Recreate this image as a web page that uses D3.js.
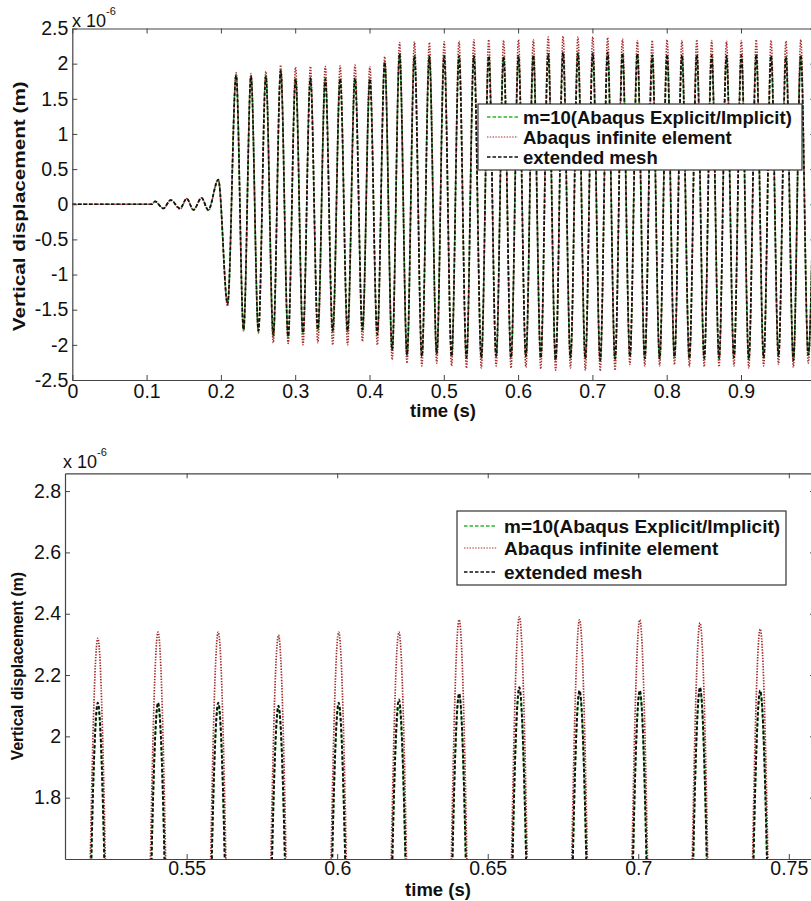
<!DOCTYPE html>
<html>
<head>
<meta charset="utf-8">
<script src="https://cdn.jsdelivr.net/npm/d3@7"></script>
<style>
  html, body { margin: 0; padding: 0; background: #fff; }
  svg { display: block; }
  text { font-family: "Liberation Sans", Arial, Helvetica, sans-serif; fill: #111; }
</style>
</head>
<body>
<svg id="chart" width="811" height="901"></svg>
<script>
// ---------------- DATA ----------------
// times (s) of the turning points of the signals
const extremaTimes = [
  0, 0.107, 0.1113, 0.1225, 0.1324, 0.145, 0.154, 0.163, 0.174, 0.183, 0.1965, 0.209,
  0.2205, 0.2305, 0.2405, 0.2505, 0.2605, 0.2705, 0.2805, 0.2905,
  0.3005, 0.3105, 0.3205, 0.3305, 0.3405, 0.3505, 0.3605, 0.3705, 0.3805, 0.3905,
  0.4005, 0.4105, 0.4205, 0.4305, 0.4405, 0.4505, 0.4605, 0.4705, 0.4805, 0.4905,
  0.5005, 0.5105, 0.5205, 0.5305, 0.5405, 0.5505, 0.5605, 0.5705, 0.5805, 0.5905,
  0.6005, 0.6105, 0.6205, 0.6305, 0.6405, 0.6505, 0.6605, 0.6705, 0.6805, 0.6905,
  0.7005, 0.7105, 0.7205, 0.7305, 0.7405, 0.7505, 0.7605, 0.7705, 0.7805, 0.7905,
  0.8005, 0.8105, 0.8205, 0.8305, 0.8405, 0.8505, 0.8605, 0.8705, 0.8805, 0.8905,
  0.9005, 0.9105, 0.9205, 0.9305, 0.9405, 0.9505, 0.9605, 0.9705, 0.9805, 0.9905,
  1.0
];
// vertical displacement (x 1e-6 m) : m=10 (Abaqus Explicit/Implicit)
const m10Values = [
  0, 0, 0.04, -0.06, 0.06, -0.06, 0.08, -0.08, 0.09, -0.08, 0.34, -1.40,
  1.85, -1.80, 1.83, -1.82, 1.84, -1.90, 1.92, -1.90,
  1.80, -1.85, 1.80, -1.80, 1.80, -1.82, 1.80, -1.82, 1.80, -1.80,
  1.80, -1.86, 2.03, -2.08, 2.13, -2.15, 2.12, -2.17, 2.11, -2.13,
  2.12, -2.17, 2.10, -2.19, 2.10, -2.19, 2.10, -2.17, 2.09, -2.19,
  2.10, -2.17, 2.10, -2.19, 2.13, -2.22, 2.15, -2.19, 2.14, -2.20,
  2.14, -2.23, 2.15, -2.21, 2.14, -2.17, 2.13, -2.20, 2.11, -2.20,
  2.12, -2.18, 2.11, -2.20, 2.12, -2.20, 2.11, -2.20, 2.10, -2.19,
  2.11, -2.21, 2.12, -2.19, 2.10, -2.17, 2.09, -2.21, 2.11, -2.15,
  2.11
];
// Abaqus infinite element
const infiniteValues = [
  0, 0, 0.04, -0.06, 0.06, -0.07, 0.08, -0.08, 0.09, -0.09, 0.35, -1.45,
  1.87, -1.80, 1.86, -1.83, 1.89, -1.97, 1.98, -1.98,
  1.95, -2.00, 1.96, -1.97, 1.96, -2.00, 1.97, -2.00, 1.98, -1.95,
  1.96, -2.00, 2.10, -2.21, 2.30, -2.26, 2.31, -2.30, 2.30, -2.26,
  2.31, -2.30, 2.32, -2.33, 2.34, -2.33, 2.34, -2.30, 2.33, -2.33,
  2.34, -2.32, 2.34, -2.34, 2.38, -2.36, 2.39, -2.33, 2.38, -2.36,
  2.38, -2.37, 2.37, -2.36, 2.35, -2.28, 2.33, -2.30, 2.33, -2.30,
  2.34, -2.28, 2.33, -2.31, 2.34, -2.31, 2.33, -2.31, 2.32, -2.30,
  2.33, -2.33, 2.34, -2.30, 2.33, -2.28, 2.32, -2.32, 2.34, -2.26,
  2.33
];
// extended mesh
const meshValues = [
  0, 0, 0.04, -0.06, 0.06, -0.06, 0.08, -0.08, 0.09, -0.08, 0.35, -1.42,
  1.83, -1.78, 1.82, -1.80, 1.82, -1.85, 1.90, -1.88,
  1.78, -1.83, 1.79, -1.78, 1.78, -1.80, 1.78, -1.80, 1.79, -1.78,
  1.78, -1.85, 2.02, -2.07, 2.14, -2.14, 2.11, -2.16, 2.10, -2.12,
  2.11, -2.16, 2.11, -2.18, 2.11, -2.18, 2.11, -2.16, 2.10, -2.18,
  2.11, -2.16, 2.12, -2.18, 2.14, -2.21, 2.16, -2.18, 2.15, -2.19,
  2.15, -2.22, 2.16, -2.20, 2.15, -2.16, 2.14, -2.19, 2.12, -2.19,
  2.13, -2.17, 2.12, -2.19, 2.13, -2.19, 2.12, -2.19, 2.11, -2.18,
  2.12, -2.20, 2.13, -2.18, 2.11, -2.16, 2.10, -2.22, 2.12, -2.14,
  2.12
];
const seriesNames = ["m=10(Abaqus Explicit/Implicit)", "Abaqus infinite element", "extended mesh"];

// axis ticks (the tick at 1 falls at the cropped right edge, its label is not shown)
const topXTicks = [0, 0.1, 0.2, 0.3, 0.4, 0.5, 0.6, 0.7, 0.8, 0.9, 1.0];
const topXTickLabels = ["0", "0.1", "0.2", "0.3", "0.4", "0.5", "0.6", "0.7", "0.8", "0.9", ""];
const topYTicks = [-2.5, -2, -1.5, -1, -0.5, 0, 0.5, 1, 1.5, 2, 2.5];
const topYTickLabels = ["-2.5", "-2", "-1.5", "-1", "-0.5", "0", "0.5", "1", "1.5", "2", "2.5"];
const botXTicks = [0.55, 0.6, 0.65, 0.7, 0.75];
const botXTickLabels = ["0.55", "0.6", "0.65", "0.7", "0.75"];
const botYTicks = [1.8, 2.0, 2.2, 2.4, 2.6, 2.8];
const botYTickLabels = ["1.8", "2", "2.2", "2.4", "2.6", "2.8"];

// ---------------- STYLE ----------------
const seriesStyles = [
  { color: "#2cb52c", dash: "3.5,2", width: 1.8 },
  { color: "#a52a2a", dash: "1.4,1.4", width: 1.7 },
  { color: "#111111", dash: "3.5,2", width: 1.9 }
];
const axisColor = "#444";

const svg = d3.select("#chart");
const seriesValues = [m10Values, infiniteValues, meshValues];

function drawPanel(p) {
  const x = d3.scaleLinear().domain(p.xDomain).range([p.left, p.right]);
  const y = d3.scaleLinear().domain(p.yDomain).range([p.bottom, p.top]);
  const g = svg.append("g");

  const clipId = "clip" + p.id;
  svg.append("clipPath").attr("id", clipId)
    .append("rect").attr("x", p.left).attr("y", p.top)
    .attr("width", p.right - p.left).attr("height", p.bottom - p.top);

  // curves
  const line = d3.line()
    .x(d => x(d[0])).y(d => y(d[1]))
    .curve(d3.curveMonotoneX);
  const curves = g.append("g").attr("clip-path", `url(#${clipId})`);
  seriesValues.forEach((vals, i) => {
    const pts = extremaTimes.map((t, k) => [t, vals[k]]);
    curves.append("path")
      .attr("d", line(pts))
      .attr("fill", "none")
      .attr("stroke", seriesStyles[i].color)
      .attr("stroke-width", seriesStyles[i].width * p.lineScale)
      .attr("stroke-dasharray", seriesStyles[i].dash);
  });

  // axes (MATLAB-like box, inward ticks on all four sides)
  const tickLen = 5;
  const fmtX = d => p.xLabels[p.xTicks.indexOf(d)];
  const fmtY = d => p.yLabels[p.yTicks.indexOf(d)];

  const bottomAxis = g.append("g").attr("transform", `translate(0,${p.bottom})`)
    .call(d3.axisBottom(x).tickValues(p.xTicks).tickFormat(fmtX).tickSizeInner(-tickLen).tickSizeOuter(0).tickPadding(p.xPad));
  const topAxis = g.append("g").attr("transform", `translate(0,${p.top})`)
    .call(d3.axisTop(x).tickValues(p.xTicks).tickFormat("").tickSizeInner(-tickLen).tickSizeOuter(0));
  const leftAxis = g.append("g").attr("transform", `translate(${p.left},0)`)
    .call(d3.axisLeft(y).tickValues(p.yTicks).tickFormat(fmtY).tickSizeInner(-tickLen).tickSizeOuter(0).tickPadding(p.yPad));
  const rightAxis = g.append("g").attr("transform", `translate(${p.right},0)`)
    .call(d3.axisRight(y).tickValues(p.yTicks).tickFormat("").tickSizeInner(-tickLen).tickSizeOuter(0));

  [bottomAxis, topAxis, leftAxis, rightAxis].forEach(a => {
    a.select(".domain").attr("stroke", axisColor).attr("stroke-width", 1.2);
    a.selectAll(".tick line").attr("stroke", axisColor).attr("stroke-width", 1);
    a.selectAll("text").attr("font-size", p.tickFont + "px")
      .attr("font-family", '"Liberation Sans", Arial, sans-serif').attr("fill", "#222");
  });
  bottomAxis.selectAll("text").attr("dy", "0.71em");

  // exponent label
  const ex = g.append("text").attr("x", p.expX).attr("y", p.expY)
    .attr("font-size", "18px").attr("fill", "#222");
  ex.append("tspan").text("x 10");
  ex.append("tspan").attr("dy", -12).attr("font-size", "11px").text("-6");

  // axis titles
  g.append("text")
    .attr("transform", `translate(${p.yTitleX},${(p.top + p.bottom) / 2 + p.yTitleShift}) rotate(-90)`)
    .attr("text-anchor", "middle")
    .attr("font-weight", "bold")
    .attr("font-size", p.yTitleFont + "px")
    .attr("textLength", p.yTitleLen)
    .attr("lengthAdjust", "spacingAndGlyphs")
    .text("Vertical displacement (m)");
  g.append("text")
    .attr("x", p.xTitleX).attr("y", p.xTitleY)
    .attr("text-anchor", "middle")
    .attr("font-weight", "bold")
    .attr("font-size", "18.5px")
    .text("time (s)");

  // legend
  const L = p.legend;
  const lg = g.append("g");
  lg.append("rect").attr("x", L.x0).attr("y", L.y0)
    .attr("width", L.x1 - L.x0).attr("height", L.y1 - L.y0)
    .attr("fill", "#fff").attr("stroke", "#333").attr("stroke-width", 1.2);
  seriesNames.forEach((name, i) => {
    const cy = L.rows[i];
    lg.append("line").attr("x1", L.lineX0).attr("x2", L.lineX1)
      .attr("y1", cy).attr("y2", cy)
      .attr("stroke", seriesStyles[i].color)
      .attr("stroke-width", seriesStyles[i].width - 0.5)
      .attr("stroke-dasharray", seriesStyles[i].dash);
    lg.append("text").attr("x", L.textX).attr("y", cy + 6.5)
      .attr("font-weight", "bold").attr("font-size", L.font + "px")
      .text(name);
  });
}

// top panel: whole record
drawPanel({
  id: "top",
  left: 72.3, right: 815.3, top: 28.5, bottom: 380,
  xDomain: [0, 1], yDomain: [-2.5, 2.5],
  xTicks: topXTicks, xLabels: topXTickLabels,
  yTicks: topYTicks, yLabels: topYTickLabels,
  tickFont: 19.5, xPad: 4, yPad: 4, lineScale: 0.9,
  expX: 72, expY: 27,
  yTitleX: 25, yTitleShift: 2, yTitleFont: 17, yTitleLen: 250,
  xTitleX: 443, xTitleY: 417,
  legend: { x0: 478, x1: 802, y0: 104, y1: 170, rows: [117, 137, 157],
            lineX0: 487, lineX1: 518, textX: 523, font: 18.5 }
});

// bottom panel: zoom on the crests
drawPanel({
  id: "bot",
  left: 65, right: 815, top: 473.3, bottom: 859,
  xDomain: [0.5096, 0.7587], yDomain: [1.6, 2.858],
  xTicks: botXTicks, xLabels: botXTickLabels,
  yTicks: botYTicks, yLabels: botYTickLabels,
  tickFont: 19.5, xPad: 2.5, yPad: 4, lineScale: 1,
  expX: 63, expY: 468,
  yTitleX: 23, yTitleShift: 0, yTitleFont: 16, yTitleLen: 188,
  xTitleX: 438, xTitleY: 896,
  legend: { x0: 457, x1: 786, y0: 511, y1: 585, rows: [526, 548, 572],
            lineX0: 464, lineX1: 497, textX: 504, font: 19 }
});
</script>
</body>
</html>
